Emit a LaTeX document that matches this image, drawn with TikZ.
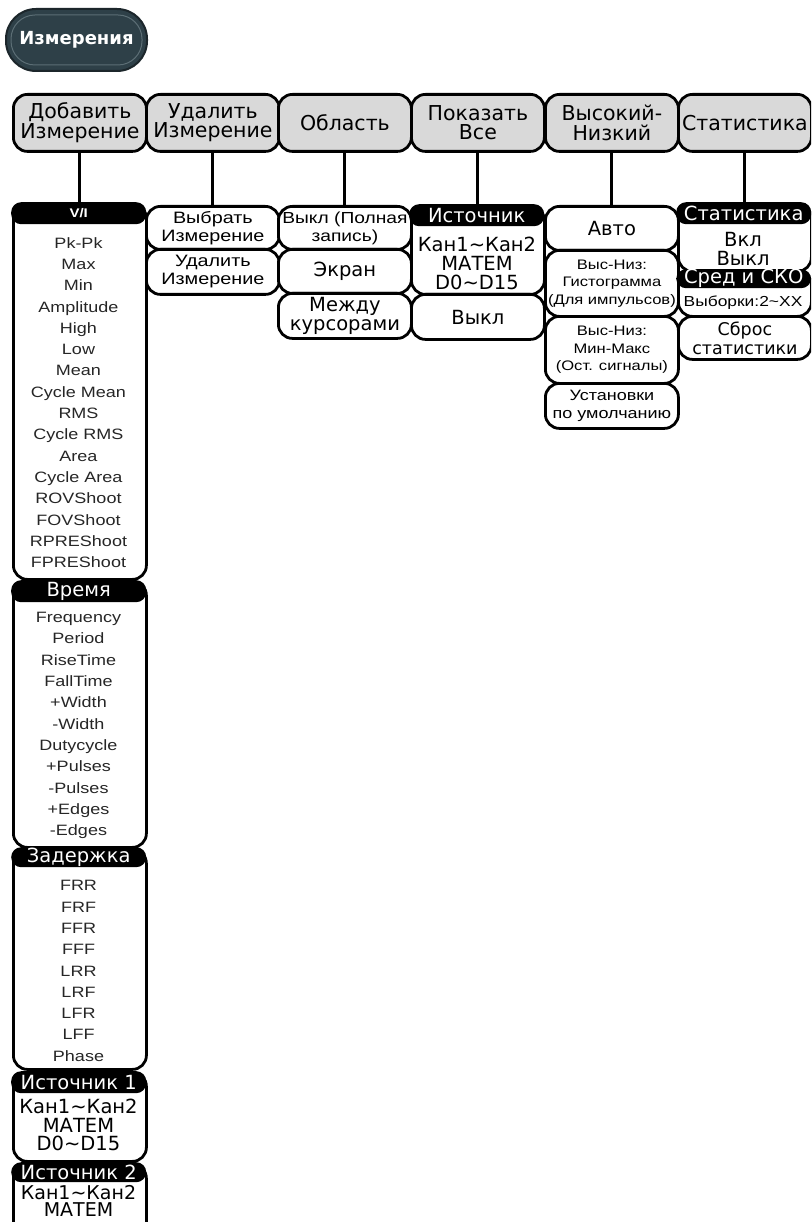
\documentclass[tikz,border=0pt]{standalone}
\usepackage{fontspec}
\setmainfont{DejaVu Sans}
\newfontfamily\narrowfont[FakeStretch=1.2]{Liberation Sans}
\usepackage{tikz}

\definecolor{hdrgray}{RGB}{217,217,217}
\definecolor{titlefill}{RGB}{46,64,72}
\definecolor{titleedge}{RGB}{28,38,43}
\definecolor{titlering}{RGB}{92,110,117}

\begin{document}
\begin{tikzpicture}[x=1pt,y=-1pt,
    menu/.style={draw,line width=2.8pt,rounded corners=14pt,fill=hdrgray,minimum width=133pt,minimum height=57pt,inner sep=0pt,anchor=north west,align=center,font=\fontsize{20.5}{19.5}\selectfont},
    entry/.style={draw,line width=2.8pt,rounded corners=14pt,fill=white,minimum width=133pt,minimum height=#1,inner sep=0pt,anchor=north west,align=center,font=\fontsize{19.5}{19}\selectfont},
    bar/.style={fill=black,text=white,rounded corners=10pt,minimum width=135pt,minimum height=22pt,inner sep=0pt,anchor=north west,font=\fontsize{19.5}{19.5}\selectfont},
    small/.style={font=\narrowfont\fontsize{#1}{18}\selectfont},
    list/.style={align=center,inner sep=0pt,text=black!85,font=\narrowfont\fontsize{15}{21.3}\selectfont},
    link/.style={line width=3pt}]
    \useasboundingbox (0,0) rectangle (811,1222);
    \clip (0,0) rectangle (811,1222);
    \fill[white] (0,0) rectangle (811,1222);

    % title
    \node[draw=titleedge,line width=2pt,fill=titlefill,rounded corners=30pt,minimum width=141pt,minimum height=62pt,inner sep=0pt] (titlepill) at (76.5,40) {};
    \node[draw=titlering,line width=1pt,rounded corners=24pt,minimum width=131pt,minimum height=50pt,inner sep=0pt,text=white,font=\bfseries\fontsize{18}{18}\selectfont] (title) at (titlepill) {Измерения};

    % top row
    \node[menu] (add) at (12,93) {Добавить\\Измерение};
    \node[menu] (remove) at (145,93) {Удалить\\Измерение};
    \node[menu] (area) at (277,93) {Область};
    \node[menu] (showall) at (410,93) {Показать\\Все};
    \node[menu] (hilo) at (544,93) {Высокий-\\Низкий};
    \node[menu] (stats) at (677,93) {Статистика};

    % add measurement
    \node[entry=375pt] (vibox) at (12,203) {};
    \node[bar] (vibar) at (11,202) {\narrowfont\bfseries\fontsize{12.5}{12.5}\selectfont V/I};
    \node[list] (vilist) at (78.5,402.5) {Pk-Pk\\Max\\Min\\Amplitude\\High\\Low\\Mean\\Cycle Mean\\RMS\\Cycle RMS\\Area\\Cycle Area\\ROVShoot\\FOVShoot\\RPREShoot\\FPREShoot};
    \node[entry=266pt] (timebox) at (12,580) {};
    \node[bar] (timebar) at (11,580) {Время};
    \node[list] (timelist) at (78.5,725.5) {Frequency\\Period\\RiseTime\\FallTime\\+Width\\-Width\\Dutycycle\\+Pulses\\-Pulses\\+Edges\\-Edges};
    \node[entry=220pt] (delaybox) at (12,848) {};
    \node[bar,minimum height=20pt] (delaybar) at (11,847) {Задержка};
    \node[list] (delaylist) at (78.5,971) {FRR\\FRF\\FFR\\FFF\\LRR\\LRF\\LFR\\LFF\\Phase};
    \node[entry=89pt] (srconebox) at (12,1071) {};
    \node[bar] (srconebar) at (11,1071) {Источник 1};
    \node[align=center,inner sep=0pt,font=\fontsize{19.5}{18.5}\selectfont] (srconelist) at (78.5,1125) {Кан1\textasciitilde Кан2\\МАТЕМ\\D0\textasciitilde D15};
    \node[entry=90pt] (srctwobox) at (12,1163) {};
    \node[bar,minimum height=20pt] (srctwobar) at (11,1162) {Источник 2};
    \node[align=center,inner sep=0pt,font=\fontsize{19}{17}\selectfont] (srctwolist) at (78.5,1200.5) {Кан1\textasciitilde Кан2\\МАТЕМ};

    % remove measurement
    \node[entry=43pt,small=16.5] (select) at (145,205) {Выбрать\\Измерение};
    \node[entry=45pt,small=16.5] (delete) at (145,248) {Удалить\\Измерение};

    % area
    \node[entry=43pt,small=16] (full) at (277,205) {Выкл (Полная\\запись)};
    \node[entry=44pt] (screen) at (277,248) {Экран};
    \node[entry=45pt] (cursors) at (277,292) {Между\\курсорами};

    % show all
    \node[entry=88pt] (srcbox) at (410,205) {};
    \node[bar] (srcbar) at (409,204) {Источник};
    \node[align=center,inner sep=0pt,font=\fontsize{19.5}{19}\selectfont] (srclist) at (477,263) {Кан1\textasciitilde Кан2\\МАТЕМ\\D0\textasciitilde D15};
    \node[entry=45pt] (showoff) at (410,293) {Выкл};

    % high-low
    \node[entry=44pt] (auto) at (544,205) {Авто};
    \node[entry=66pt,font=\narrowfont\fontsize{13.8}{17.5}\selectfont] (hist) at (544,249) {Выс-Низ:\\Гистограмма\\(Для импульсов)};
    \node[entry=67pt,font=\narrowfont\fontsize{13.8}{17.5}\selectfont] (minmax) at (544,315) {Выс-Низ:\\Мин-Макс\\(Ост. сигналы)};
    \node[entry=45pt,small=15] (defaults) at (544,382) {Установки\\по умолчанию};

    % statistics
    \node[entry=67pt] (statbox) at (677,203) {};
    \node[bar] (statbar) at (676,202) {Статистика};
    \node[align=center,inner sep=0pt,font=\fontsize{19.5}{18.5}\selectfont] (statlist) at (743,249) {Вкл\\Выкл};
    \node[entry=45pt] (avgbox) at (677,270) {};
    \node[bar,minimum height=19pt] (avgbar) at (676,269) {Сред и СКО};
    \node[inner sep=0pt,font=\narrowfont\fontsize{14.5}{14.5}\selectfont] (avglist) at (743,303) {Выборки:2\textasciitilde XX};
    \node[entry=43pt,font=\fontsize{17.5}{19}\selectfont] (reset) at (677,315) {Сброс\\статистики};

    % connectors
    \draw[link] (add.south) -- (add.south |- vibar.north);
    \draw[link] (remove.south) -- (remove.south |- select.north);
    \draw[link] (area.south) -- (area.south |- full.north);
    \draw[link] (showall.south) -- (showall.south |- srcbar.north);
    \draw[link] (hilo.south) -- (hilo.south |- auto.north);
    \draw[link] (stats.south) -- (stats.south |- statbar.north);
\end{tikzpicture}
\end{document}
